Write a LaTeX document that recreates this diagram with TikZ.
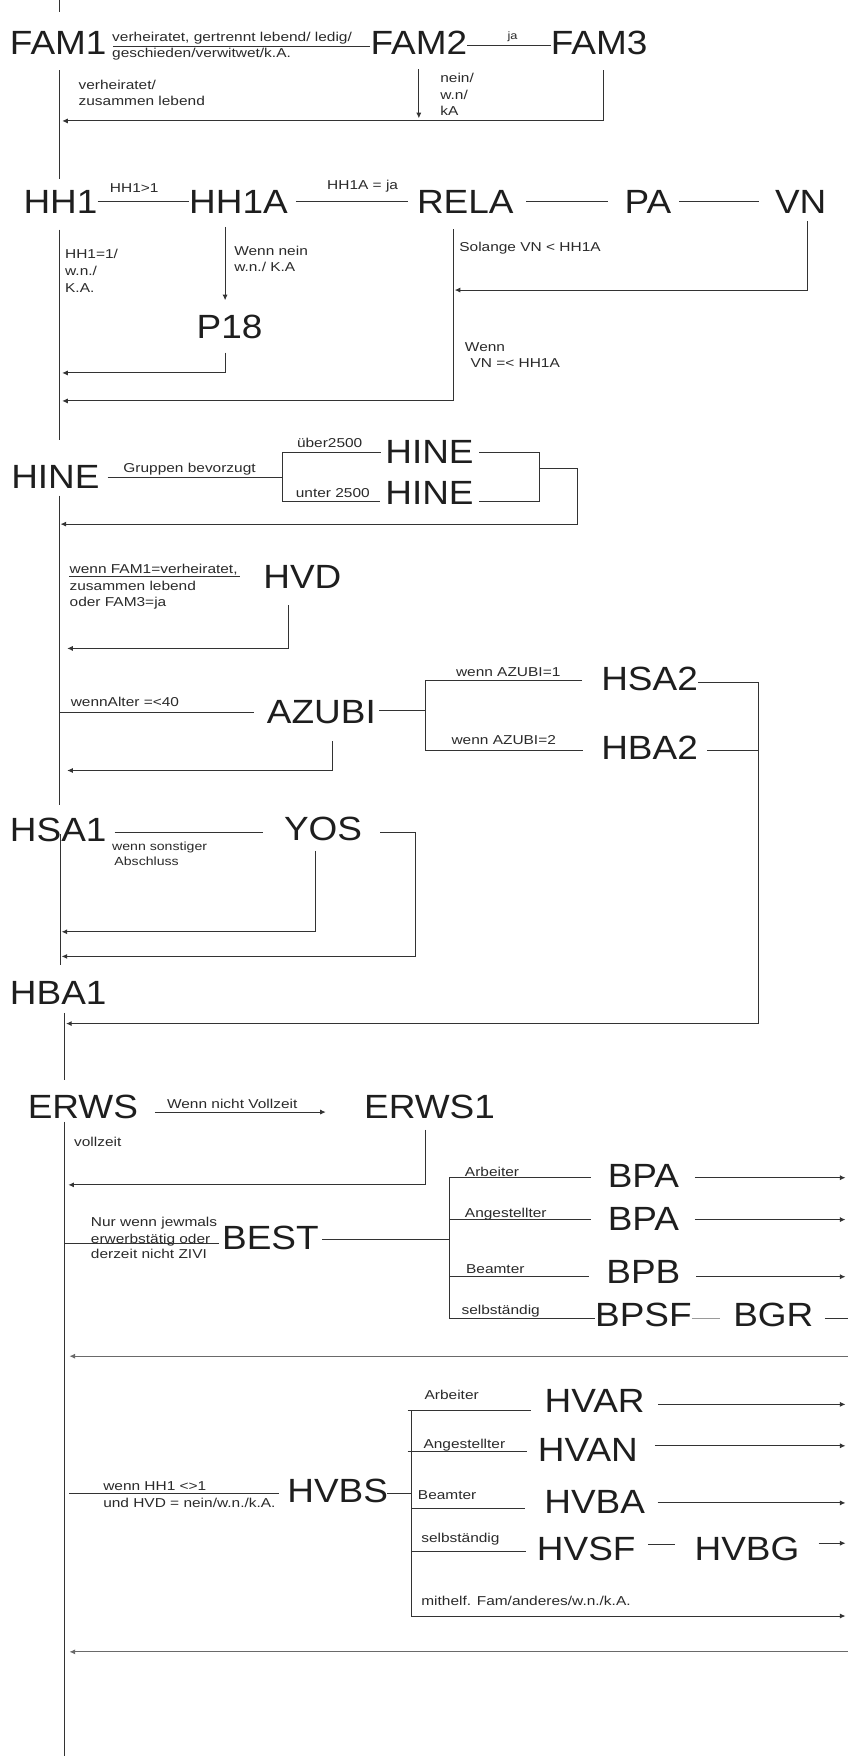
\documentclass[tikz,border=0pt]{standalone}
\usepackage{fontspec}
\setmainfont[FakeStretch=1.1]{Liberation Sans}
\newfontfamily\labfont[FakeStretch=1.2]{Liberation Sans}
\usetikzlibrary{arrows.meta}
\definecolor{txt}{HTML}{1E1E1E}
\definecolor{ltxt}{HTML}{2A2A2A}
\definecolor{lc}{HTML}{333333}
\definecolor{lg}{HTML}{9A9A9A}
\definecolor{lm}{HTML}{6A6A6A}
\begin{document}
\begin{tikzpicture}[x=1pt,y=-1pt,
  big/.style={font=\fontsize{30}{32}\selectfont, inner sep=0pt, text=txt},
  lab/.style={font=\labfont\fontsize{11.5}{15}\selectfont, inner sep=0pt, anchor=base west, text=ltxt},
  labs/.style={lab, font=\labfont\fontsize{10.5}{13}\selectfont},
  labt/.style={lab, font=\labfont\fontsize{9.5}{12}\selectfont},
  ln/.style={draw=lc, line width=0.9pt},
  arr/.style={ln, -{Latex[length=5pt,width=4.5pt]}},
]
\fill[white] (0,0) rectangle (757,1568);
\useasboundingbox (0,0) rectangle (757,1568);

% ---------------- coordinates on trunk / free ends
\coordinate (t0) at (53,0);
\coordinate (t0b) at (53,11);
\coordinate (r1) at (55.5,108);
\coordinate (tr1) at (53,160);
\coordinate (tr2a) at (53,205);
\coordinate (tr2) at (53,393);
\coordinate (r3) at (55.5,333);
\coordinate (r4) at (55.5,358);
\coordinate (r5) at (406,259);
\coordinate (b1) at (252,426);
\coordinate (b2) at (482,418);
\coordinate (b4) at (516,468);
\coordinate (r6) at (54,468);
\coordinate (tr3) at (53,719);
\coordinate (u1) at (62,515);
\coordinate (r7) at (60,579);
\coordinate (a0) at (53,636);
\coordinate (az) at (380,634);
\coordinate (r8) at (60,688);
\coordinate (h1) at (677,914);
\coordinate (h2) at (677,670);
\coordinate (r9) at (59,914);
\coordinate (y1) at (371,854);
\coordinate (r10) at (55,832);
\coordinate (r11) at (55,854);
\coordinate (bot) at (58,1568);
\coordinate (r12) at (61,1058);
\coordinate (be0) at (58,1110);
\coordinate (bb) at (401,1107);
\coordinate (e1) at (755,1051.6);
\coordinate (e2) at (755,1089);
\coordinate (e3) at (755,1140);
\coordinate (e4) at (757,1177);
\coordinate (e5) at (757,1211);
\coordinate (r13) at (62,1211);
\coordinate (hv0) at (62,1334);
\coordinate (hb) at (367,1334);
\coordinate (hm) at (367,1443);
\coordinate (e6) at (755,1254);
\coordinate (e7) at (755,1291);
\coordinate (e8) at (755,1342);
\coordinate (e9) at (755,1443);
\coordinate (e10) at (755,1378);
\coordinate (e11) at (757,1475);
\coordinate (r14) at (62,1475);

% ---------------- big nodes
\node[big] (FAM1) at (52,38) {FAM1};
\node[big] (FAM2) at (374,38) {FAM2};
\node[big] (FAM3) at (535,38) {FAM3};
\node[big] (HH1) at (54,180) {HH1};
\node[big] (HH1A) at (213,180) {HH1A};
\node[big] (RELA) at (415.5,180) {RELA};
\node[big] (PA) at (578.5,180) {PA};
\node[big] (VN) at (715,180) {VN};
\node[big] (P18) at (205,292) {P18};
\node[big] (HINE0) at (49.5,426) {HINE};
\node[big] (HINEa) at (383.5,404) {HINE};
\node[big] (HINEb) at (383.5,440) {HINE};
\node[big] (HVD) at (270,515) {HVD};
\node[big] (AZUBI) at (287,636) {AZUBI};
\node[big] (HSA2) at (580,606) {HSA2};
\node[big] (HBA2) at (580,668) {HBA2};
\node[big] (HSA1) at (52,741) {HSA1};
\node[big] (YOS) at (288.5,740) {YOS};
\node[big] (HBA1) at (52,887) {HBA1};
\node[big] (ERWS) at (74,988) {ERWS};
\node[big] (ERWS1) at (383.5,988) {ERWS1};
\node[big] (BEST) at (241.5,1105) {BEST};
\node[big] (BPA1) at (574.5,1050) {BPA};
\node[big] (BPA2) at (574.5,1088) {BPA};
\node[big] (BPB) at (574.5,1136) {BPB};
\node[big] (BPSF) at (574.5,1174) {BPSF};
\node[big] (BGR) at (690.5,1174) {BGR};
\node[big] (HVBS) at (301.5,1331) {HVBS};
\node[big] (HVAR) at (531,1251) {HVAR};
\node[big] (HVAN) at (525,1295) {HVAN};
\node[big] (HVBA) at (531,1341) {HVBA};
\node[big] (HVSF) at (523.5,1383) {HVSF};
\node[big] (HVBG) at (667,1383) {HVBG};

% ---------------- labels
\node[lab] (L1) at (100,37) {verheiratet, gertrennt lebend/ ledig/};
\node[lab] (L2) at (100,51) {geschieden/verwitwet/k.A.};
\node[labt] (L3) at (453,35.7) {ja};
\node[lab] (L4) at (70,80) {verheiratet/};
\node[lab] (L5) at (70,94) {zusammen lebend};
\node[lab] (L6) at (393,74) {nein/};
\node[lab] (L7) at (393,88.5) {w.n/};
\node[lab] (L8) at (393,103) {kA};
\node[lab] (L9) at (98,172) {HH1>1};
\node[lab] (L10) at (292,169) {HH1A = ja};
\node[lab] (L11) at (58,231) {HH1=1/};
\node[lab] (L12) at (58,246) {w.n./};
\node[lab] (L13) at (58,261) {K.A.};
\node[lab] (L14) at (209,228) {Wenn nein};
\node[lab] (L15) at (209,242) {w.n./ K.A};
\node[lab] (L16) at (410,225) {Solange VN < HH1A};
\node[lab] (L17) at (415,314) {Wenn};
\node[lab] (L18) at (420,328) {VN =< HH1A};
\node[lab] (L19) at (110,422) {Gruppen bevorzugt};
\node[lab] (L20) at (265,400) {über2500};
\node[lab] (L21) at (264,444) {unter 2500};
\node[lab] (L22) at (62,512) {wenn FAM1=verheiratet,};
\node[lab] (L23) at (62,527) {zusammen lebend};
\node[lab] (L24) at (62,542) {oder FAM3=ja};
\node[lab] (L25) at (63,631) {wennAlter =<40};
\node[lab] (L26) at (407,604) {wenn AZUBI=1};
\node[lab] (L27) at (403,665) {wenn AZUBI=2};
\node[labs] (L28) at (100,759) {wenn sonstiger};
\node[labs] (L29) at (102,773) {Abschluss};
\node[lab] (L30) at (149,990) {Wenn nicht Vollzeit};
\node[lab] (L31) at (66,1024) {vollzeit};
\node[lab] (L32) at (81,1095) {Nur wenn jewmals};
\node[lab] (L33) at (81,1110) {erwerbstätig oder};
\node[lab] (L34) at (81,1124) {derzeit nicht ZIVI};
\node[lab] (L35) at (415,1050.6) {Arbeiter};
\node[lab] (L36) at (415,1087.5) {Angestellter};
\node[lab] (L37) at (416,1137) {Beamter};
\node[lab] (L38) at (412,1174) {selbständig};
\node[lab] (L39) at (92,1331) {wenn HH1 <>1};
\node[lab] (L40) at (92,1346) {und HVD = nein/w.n./k.A.};
\node[lab] (L41) at (379,1250) {Arbeiter};
\node[lab] (L42) at (378,1293) {Angestellter};
\node[lab] (L43) at (373,1339) {Beamter};
\node[lab] (L44) at (376,1377) {selbständig};
\node[lab] (L45) at (376,1434) {mithelf. Fam/anderes/w.n./k.A.};

% ---------------- connectors: FAM block
\draw[ln] (t0) -- (t0b);
\draw[ln] ([xshift=6pt,yshift=-3.7pt]FAM1.east) -- ([yshift=-3.7pt]FAM2.west);
\draw[ln] ([yshift=-2.8pt]FAM2.east) -- ([yshift=-2.8pt]FAM3.west);
\draw[arr] ([yshift=-13pt]FAM2.south) -- ([yshift=-57pt]FAM2.south);
\draw[arr] ([xshift=4pt,yshift=-14pt]FAM3.south) |- (r1);
\draw[ln] ([xshift=1pt,yshift=-14pt]FAM1.south) -- (tr1);

% HH1 block
\draw[ln] (HH1.east) -- (HH1A.west);
\draw[ln] ([xshift=7pt]HH1A.east) -- ([xshift=-8pt]RELA.west);
\draw[ln] ([xshift=11pt]RELA.east) -- ([xshift=-15pt]PA.west);
\draw[ln] ([xshift=7pt]PA.east) -- ([xshift=-14pt]VN.west);
\draw[ln] (tr2a) -- (tr2);
\draw[arr] ([xshift=-12pt,yshift=-12pt]HH1A.south) -- ([xshift=-4pt,yshift=13pt]P18.north);
\draw[arr] ([xshift=-4pt,yshift=-12pt]P18.south) |- (r3);
\draw[arr] ([xshift=-10.5pt,yshift=-14pt]RELA.south) |- (r4);
\draw[arr] ([xshift=6pt,yshift=-7pt]VN.south) |- (r5);

% HINE block
\draw[ln] ([xshift=7pt]HINE0.east) -- (b1);
\draw[ln] ([xshift=-4pt]HINEa.west) -| (b1) |- ([xshift=-5pt,yshift=-8pt]HINEb.west);
\draw[ln] ([xshift=5pt]HINEa.east) -| (b2) |- ([xshift=5pt,yshift=-8pt]HINEb.east);
\draw[arr] (b2) -| (b4) -- (r6);
\draw[ln] ([xshift=3.5pt,yshift=-6pt]HINE0.south) -- (tr3);

% HVD
\draw[ln] (u1) -- ([xshift=-21pt]HVD.west);
\draw[arr] ([xshift=-12pt,yshift=-15pt]HVD.south) |- (r7);

% AZUBI
\draw[ln] (a0) -- ([xshift=-11pt]AZUBI.west);
\draw[ln] ([xshift=3pt,yshift=2pt]AZUBI.east) -- (az);
\draw[ln] ([xshift=-17pt,yshift=-2pt]HSA2.west) -| (az) |- ([xshift=-16pt,yshift=-2pt]HBA2.west);
\draw[arr] ([xshift=10pt,yshift=-15pt]AZUBI.south) |- (r8);
\draw[arr] ([yshift=-3pt]HSA2.east) -| (h1) -- (r9);
\draw[ln] ([xshift=8pt,yshift=-2pt]HBA2.east) -- (h2);

% HSA1 / YOS
\draw[ln] ([xshift=7pt,yshift=-2pt]HSA1.east) -- ([xshift=-19pt,yshift=-3pt]YOS.west);
\draw[arr] ([xshift=16pt,yshift=-3pt]YOS.east) -| (y1) -- (r11);
\draw[arr] ([xshift=-6.5pt,yshift=-9pt]YOS.south) |- (r10);
\draw[ln] ([xshift=2pt,yshift=-4pt]HSA1.center) -- ([xshift=2pt,yshift=-121pt]HSA1.center);

% HBA1 / ERWS
\draw[ln] ([xshift=6pt,yshift=-7pt]HBA1.south) -- ([xshift=-16pt,yshift=13pt]ERWS.north);
\draw[arr] ([xshift=15pt,yshift=-5pt]ERWS.east) -- ([xshift=-34pt,yshift=-5pt]ERWS1.west);
\draw[ln] ([xshift=-16pt,yshift=-3pt]ERWS.south) -- (bot);
\draw[arr] ([xshift=-3.5pt,yshift=-10pt]ERWS1.south) |- (r12);

% BEST
\draw[ln] (be0) -- ([xshift=-3pt,yshift=-5pt]BEST.west);
\draw[ln] ([xshift=3pt,yshift=-2pt]BEST.east) -- (bb);
\draw[ln] ([xshift=-15pt,yshift=-1.6pt]BPA1.west) -| (bb) |- ([yshift=-3pt]BPSF.west);
\draw[ln] ([yshift=-1pt]bb |- BPA2.west) -- ([xshift=-15pt,yshift=-1pt]BPA2.west);
\draw[ln] ([yshift=-4pt]bb |- BPB.west) -- ([xshift=-15pt,yshift=-4pt]BPB.west);
\draw[arr] ([xshift=14pt,yshift=-1.6pt]BPA1.east) -- (e1);
\draw[arr] ([xshift=14pt,yshift=-1pt]BPA2.east) -- (e2);
\draw[arr] ([xshift=14pt,yshift=-4pt]BPB.east) -- (e3);
\draw[ln, draw=lg] ([yshift=-3pt]BPSF.east) -- ([xshift=-12pt,yshift=-3pt]BGR.west);
\draw[ln] ([xshift=10pt,yshift=-3pt]BGR.east) -- (e4);
\draw[arr, draw=lm] (e5) -- (r13);

% HVBS
\draw[ln] (hv0) -- ([xshift=-7pt,yshift=-3pt]HVBS.west);
\draw[ln] ([xshift=-1pt,yshift=-3pt]HVBS.east) -- (hb);
\draw[arr] ([yshift=-8.5pt]hb |- HVAR.west) -- (hm) -- (e9);
\draw[ln] ([xshift=-3pt,yshift=-8.5pt]hb |- HVAR.west) -- ([xshift=-12pt,yshift=-8.5pt]HVAR.west);
\draw[ln] ([xshift=-3pt,yshift=-1pt]hb |- HVAN.west) -- ([xshift=-10pt,yshift=-1pt]HVAN.west);
\draw[ln] ([yshift=-6pt]hb |- HVBA.west) -- ([xshift=-17pt,yshift=-6pt]HVBA.west);
\draw[ln] ([yshift=-2pt]hb |- HVSF.west) -- ([xshift=-10pt,yshift=-2pt]HVSF.west);
\draw[arr] ([xshift=12pt,yshift=-3pt]HVAR.east) -- (e6);
\draw[arr] ([xshift=15pt,yshift=4pt]HVAN.east) -- (e7);
\draw[arr] ([xshift=11pt,yshift=-1pt]HVBA.east) -- (e8);
\draw[ln] ([xshift=11pt,yshift=4pt]HVSF.east) -- ([xshift=-17pt,yshift=4pt]HVBG.west);
\draw[arr] ([xshift=17pt,yshift=5pt]HVBG.east) -- (e10);
\draw[arr, draw=lm] (e11) -- (r14);
\end{tikzpicture}
\end{document}
